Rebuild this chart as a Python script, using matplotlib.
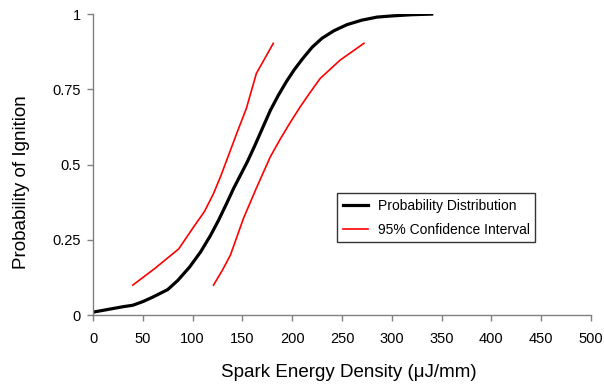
import matplotlib
matplotlib.use("Agg")
import matplotlib.pyplot as plt

plt.rcParams['font.family'] = ['Liberation Sans', 'DejaVu Sans']

# probability distribution
energy = [0, 10, 20, 30, 40, 50, 60, 75, 85, 97, 108, 118, 126, 134, 141, 148, 155,
          162, 170, 178, 186, 194, 202, 210, 220, 230, 242, 255, 270, 285, 300, 320, 340]
prob = [0.01, 0.016, 0.022, 0.028, 0.033, 0.045, 0.06, 0.085, 0.115, 0.16, 0.21,
        0.265, 0.315, 0.37, 0.42, 0.465, 0.51, 0.56, 0.62, 0.68, 0.73, 0.775, 0.815,
        0.85, 0.89, 0.92, 0.945, 0.965, 0.98, 0.99, 0.994, 0.998, 1.0]

# 95% confidence interval
upper_x = [40, 62, 86, 101, 112, 121, 128, 138, 145, 154, 164, 172, 181]
upper_p = [0.1, 0.155, 0.22, 0.293, 0.345, 0.404, 0.46, 0.548, 0.61, 0.687, 0.803, 0.85, 0.903]
lower_x = [121, 130, 138, 151, 164, 178, 188, 198, 208, 218, 228, 248, 272]
lower_p = [0.1, 0.15, 0.2, 0.321, 0.422, 0.526, 0.585, 0.64, 0.692, 0.74, 0.786, 0.847, 0.903]

fig = plt.figure(figsize=(6.04, 3.92), dpi=100)
ax = fig.add_axes([0.154, 0.196, 0.8245, 0.768])

ax.plot(energy, prob, color="black", lw=2.3, label="Probability Distribution")
ax.plot(upper_x, upper_p, color="red", lw=1.2, label="95% Confidence Interval")
ax.plot(lower_x, lower_p, color="red", lw=1.2)

ax.set_xlim(0, 500)
ax.set_ylim(0, 1)
ax.set_xticks(range(0, 501, 50))
ax.set_yticks([0, 0.25, 0.5, 0.75, 1])
ax.set_yticklabels(["0", "0.25", "0.5", "0.75", "1"])

for s in ["top", "right"]:
    ax.spines[s].set_visible(False)
for s in ["left", "bottom"]:
    ax.spines[s].set_color("#808080")
    ax.spines[s].set_linewidth(1.0)
ax.tick_params(colors="#808080", labelcolor="black", labelsize=10.5, length=4, width=1, direction="out")
ax.tick_params(axis="x", pad=8)
ax.tick_params(axis="y", pad=5)

ax.set_xlabel("Spark Energy Density (\u03bcJ/mm)", fontsize=13.5)
ax.set_ylabel("Probability of Ignition", fontsize=13.5)
ax.xaxis.set_label_coords(0.514, -0.163)
ax.yaxis.set_label_coords(-0.1265, 0.442)

leg = ax.legend(loc="upper left", bbox_to_anchor=(0.49, 0.405), borderaxespad=0,
                fontsize=10, frameon=True, fancybox=False, edgecolor="black",
                handlelength=1.8, handletextpad=0.72, borderpad=0.4, labelspacing=0.7)
leg.get_frame().set_linewidth(1.0)

fig.savefig("out.png", dpi=100)
